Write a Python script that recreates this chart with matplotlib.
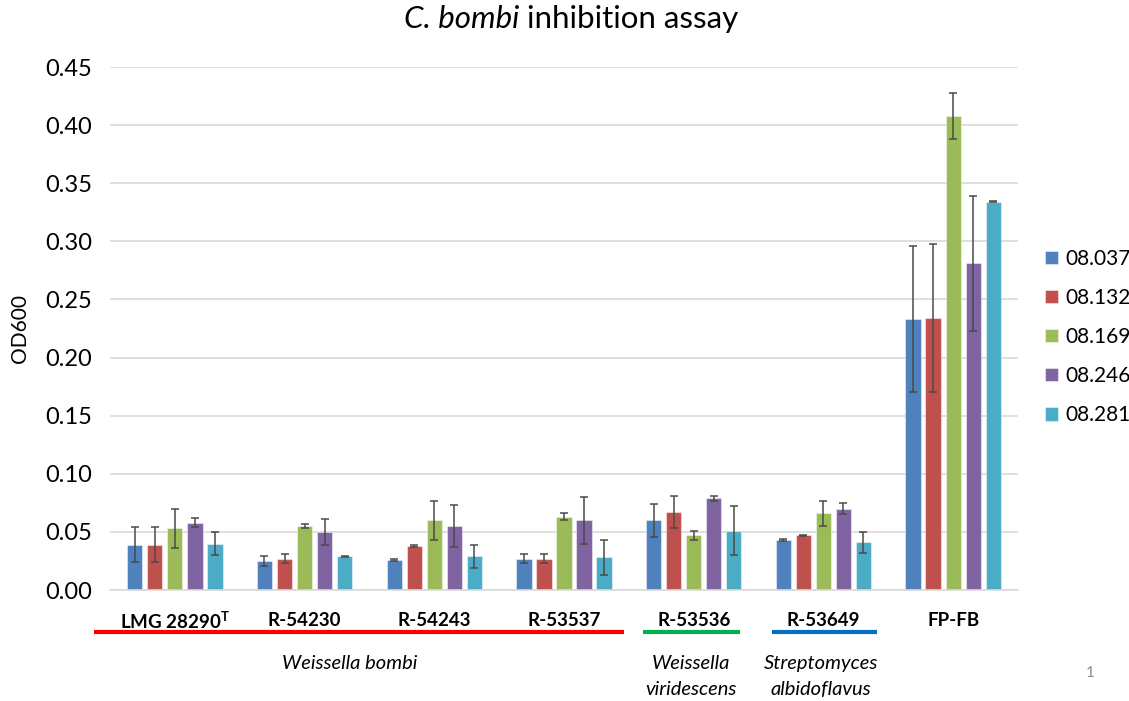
import numpy as np
import matplotlib
matplotlib.use("Agg")
import matplotlib.pyplot as plt

plt.rcParams['font.family'] = ['Lato', 'DejaVu Sans']
plt.rcParams['mathtext.fontset'] = 'custom'
plt.rcParams['mathtext.rm'] = 'Lato'
plt.rcParams['mathtext.it'] = 'Lato:italic'
plt.rcParams['mathtext.bf'] = 'Lato:bold'

strains = [r'LMG 28290$^{\mathbf{T}}$', 'R-54230', 'R-54243', 'R-53537',
           'R-53536', 'R-53649', 'FP-FB']
series = ['08.037', '08.132', '08.169', '08.246', '08.281']
colors = ['#4F81BD', '#C0504D', '#9BBB59', '#8064A2', '#4BACC6']

# mean OD600 per strain, one list per isolate
od_08037 = [0.039, 0.025, 0.026, 0.027, 0.060, 0.043, 0.233]
od_08132 = [0.039, 0.027, 0.038, 0.027, 0.067, 0.047, 0.234]
od_08169 = [0.053, 0.055, 0.060, 0.063, 0.047, 0.066, 0.408]
od_08246 = [0.058, 0.050, 0.055, 0.060, 0.079, 0.070, 0.281]
od_08281 = [0.040, 0.029, 0.029, 0.028, 0.051, 0.041, 0.334]

# standard deviations
sd_08037 = [0.015, 0.004, 0.001, 0.004, 0.014, 0.0005, 0.063]
sd_08132 = [0.015, 0.004, 0.001, 0.004, 0.014, 0.0005, 0.064]
sd_08169 = [0.017, 0.002, 0.017, 0.003, 0.004, 0.011, 0.020]
sd_08246 = [0.004, 0.011, 0.018, 0.020, 0.002, 0.005, 0.058]
sd_08281 = [0.010, 0.0005, 0.010, 0.015, 0.021, 0.009, 0.0005]

means = [od_08037, od_08132, od_08169, od_08246, od_08281]
sds = [sd_08037, sd_08132, sd_08169, sd_08246, sd_08281]

fig = plt.figure(figsize=(11.29, 7.01), dpi=100)
ax = fig.add_axes([0.0974, 0.1583, 0.8043, 0.7461])

x = np.arange(len(strains))
step = 0.1544
width = 0.118
for i, (m, s) in enumerate(zip(means, sds)):
    ax.bar(x + (i - 2) * step, m, width, color=colors[i], label=series[i],
           edgecolor=(1, 1, 1, 0.45), linewidth=0.8, zorder=2,
           yerr=s, error_kw=dict(ecolor='#4a4a4a', elinewidth=1.1,
                                 capsize=3, capthick=1.1, zorder=3))

ax.set_xlim(-0.5, 6.5)
ax.set_ylim(0, 0.45)
ax.set_yticks(np.arange(0, 0.451, 0.05))
ax.set_yticklabels([f'{v:.2f}' for v in np.arange(0, 0.451, 0.05)])
ax.tick_params(axis='y', length=0, pad=13, labelsize=17)
ax.set_xticks([])
ax.yaxis.grid(True, color='#d9d9d9', linewidth=1.2, zorder=0)
ax.set_axisbelow(True)
for side in ['left', 'right', 'top']:
    ax.spines[side].set_visible(False)
ax.spines['bottom'].set_color('#d9d9d9')
ax.spines['bottom'].set_linewidth(1.2)

trans = ax.get_xaxis_transform()
for xi, name in zip(x, strains):
    ax.text(xi, -0.059, name, transform=trans, ha='center', va='center',
            fontsize=13.5, fontweight='bold', clip_on=False)

# species groupings underneath the strain labels
groups = [(-0.62, 3.46, '#FF0000'), (3.61, 4.36, '#00B050'), (4.60, 5.41, '#0070C0')]
for x0, x1, c in groups:
    ax.plot([x0, x1], [-0.080, -0.080], transform=trans, color=c,
            linewidth=3, solid_capstyle='butt', clip_on=False)

species = [(1.35, -0.140, 'Weissella bombi'),
           (3.98, -0.140, 'Weissella'), (3.98, -0.191, 'viridescens'),
           (4.98, -0.140, 'Streptomyces'), (4.98, -0.191, 'albidoflavus')]
for sx, sy, txt in species:
    ax.text(sx, sy, txt, transform=trans, ha='center', va='center',
            fontsize=14.5, style='italic')

# title: italic genus/species followed by upright text
fig.canvas.draw()
renderer = fig.canvas.get_renderer()
t1 = fig.text(0, 1 - 28 / 701, 'C. bombi', style='italic', fontsize=22.5,
              va='baseline')
t2 = fig.text(0, 1 - 28 / 701, ' inhibition assay', fontsize=22.5, va='baseline')
w1 = t1.get_window_extent(renderer).width
w2 = t2.get_window_extent(renderer).width
left = 571 - (w1 + w2) / 2
t1.set_x(left / 1129)
t2.set_x((left + w1) / 1129)

fig.text(20 / 1129, 1 - 328 / 701, 'OD600', rotation=90, ha='center',
         va='center', fontsize=15)
fig.text(1090 / 1129, 1 - 673 / 701, '1', ha='center', va='center',
         fontsize=11, color='#8c8c8c')

fig.legend(loc='center left', bbox_to_anchor=(1045 / 1129, 1 - 337 / 701),
           frameon=False, fontsize=15, handlelength=0.6, handleheight=0.6,
           handletextpad=0.4, labelspacing=0.92, borderpad=0, borderaxespad=0)

fig.savefig('out.png', dpi=100)
